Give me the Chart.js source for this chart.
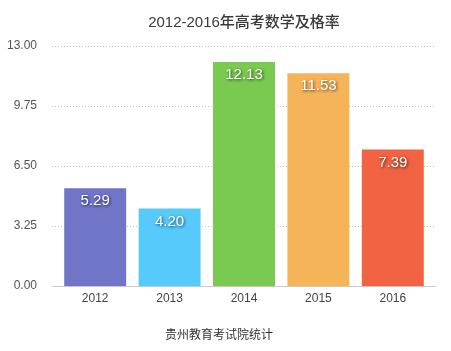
<!DOCTYPE html>
<html>
<head>
<meta charset="utf-8">
<script src="https://cdn.jsdelivr.net/npm/chart.js@4/dist/chart.umd.min.js"></script>
<style>
html,body{margin:0;padding:0;background:#fff;}
#wrap{width:451px;height:351px;}
</style>
</head>
<body>
<div id="wrap"><canvas id="c" width="451" height="351"></canvas></div>
<script>
const categories = ['2012', '2013', '2014', '2015', '2016'];
const passRates = [5.29, 4.20, 12.13, 11.53, 7.39];
const barColors = ['#7075C8', '#56CBFB', '#7AC950', '#F6B459', '#F16342'];
const yTicks = [0, 3.25, 6.5, 9.75, 13];
const titleText = '2012-2016年高考数学及格率';
const footerText = '贵州教育考试院统计';

const FONT = "'Liberation Sans', 'Noto Sans CJK SC', sans-serif";

const gridPlugin = {
  id: 'customGrid',
  beforeDatasetsDraw(chart) {
    const {ctx, chartArea, scales} = chart;
    const y = scales.y;
    const x0 = chartArea.left - 6, x1 = chartArea.right + 6;
    ctx.save();
    ctx.lineWidth = 1;
    y.ticks.forEach(t => {
      const py = Math.round(y.getPixelForValue(t.value)) + 0.5;
      ctx.beginPath();
      if (t.value === 0) {
        ctx.setLineDash([]);
        ctx.strokeStyle = '#c8c8c8';
      } else {
        ctx.setLineDash([1, 2]);
        ctx.strokeStyle = '#c4c4c4';
      }
      ctx.moveTo(x0, py);
      ctx.lineTo(x1, py);
      ctx.stroke();
    });
    ctx.restore();
  }
};

const textPlugin = {
  id: 'texts',
  afterDraw(chart) {
    const {ctx, chartArea} = chart;
    ctx.save();
    ctx.textAlign = 'center';
    ctx.textBaseline = 'middle';
    ctx.fillStyle = '#3a3a3a';
    ctx.font = '500 15px ' + FONT;
    ctx.fillText(titleText, (chartArea.left + chartArea.right) / 2, 23);
    ctx.fillStyle = '#333';
    ctx.font = '12px ' + FONT;
    ctx.fillText(footerText, chartArea.left + 161, 336);
    ctx.restore();
  }
};

const labelPlugin = {
  id: 'valueLabels',
  afterDatasetsDraw(chart) {
    const {ctx} = chart;
    const meta = chart.getDatasetMeta(0);
    ctx.save();
    ctx.font = '15px ' + FONT;
    ctx.textAlign = 'center';
    ctx.textBaseline = 'middle';
    ctx.fillStyle = '#ffffff';
    ctx.shadowColor = 'rgba(0,0,0,0.7)';
    ctx.shadowBlur = 3;
    ctx.shadowOffsetX = 1;
    ctx.shadowOffsetY = 1;
    meta.data.forEach((bar, i) => {
      ctx.fillText(passRates[i].toFixed(2), bar.x, bar.y + 13);
    });
    ctx.restore();
  }
};

new Chart(document.getElementById('c'), {
  type: 'bar',
  data: {
    labels: categories,
    datasets: [{
      data: passRates,
      backgroundColor: barColors,
      borderWidth: 0,
      categoryPercentage: 1,
      barPercentage: 0.833
    }]
  },
  options: {
    responsive: false,
    animation: false,
    devicePixelRatio: 1,
    layout: {padding: {left: 0, right: 21, top: 46, bottom: 45}},
    plugins: {
      legend: {display: false},
      tooltip: {enabled: false},
      title: {display: false}
    },
    scales: {
      x: {
        afterFit(scale) { scale.height = 20; },
        grid: {display: false, drawTicks: false},
        border: {display: false},
        ticks: {color: '#444', font: {family: FONT, size: 12}, padding: 5}
      },
      y: {
        min: 0,
        max: 13,
        afterBuildTicks(scale) {
          scale.ticks = yTicks.map(v => ({value: v}));
        },
        afterFit(scale) { scale.width = 58; },
        grid: {display: false, drawTicks: false},
        border: {display: false},
        ticks: {
          color: '#555',
          font: {family: FONT, size: 12},
          padding: 21,
          callback: v => Number(v).toFixed(2)
        }
      }
    }
  },
  plugins: [gridPlugin, labelPlugin, textPlugin]
});
</script>
</body>
</html>
